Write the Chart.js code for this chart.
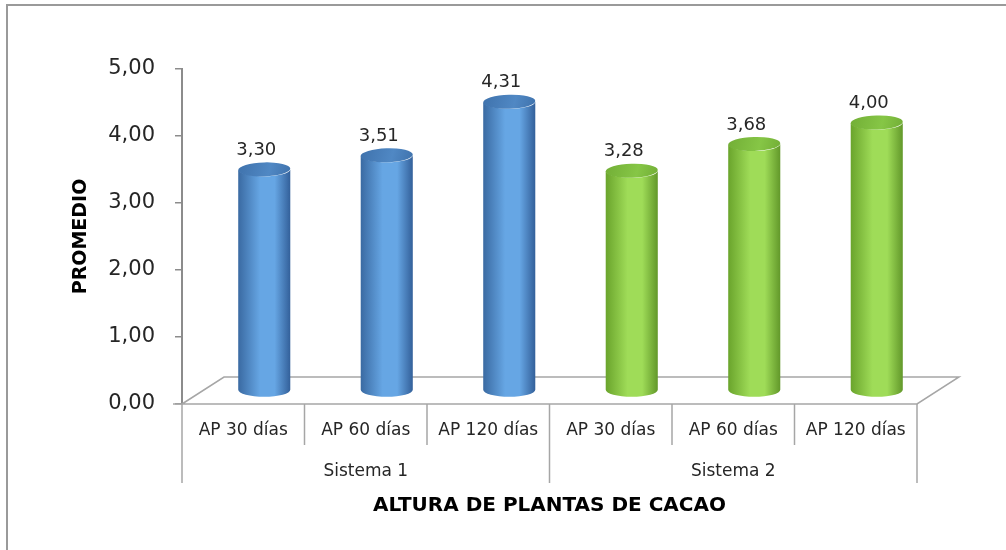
<!DOCTYPE html>
<html>
<head>
<meta charset="utf-8">
<script src="https://cdn.jsdelivr.net/npm/chart.js"></script>
<style>
  html, body { margin: 0; padding: 0; background: #fff; }
  #wrap { width: 1006px; height: 550px; position: relative; }
</style>
</head>
<body>
<div id="wrap"><canvas id="grafico" width="1006" height="550"></canvas></div>
<script>
// datos del gráfico
const categorias = ['AP 30 días', 'AP 60 días', 'AP 120 días', 'AP 30 días', 'AP 60 días', 'AP 120 días'];
const sistemas = ['Sistema 1', 'Sistema 2'];
const grupoDeCategoria = [0, 0, 0, 1, 1, 1];
const promedios = [3.30, 3.51, 4.31, 3.28, 3.68, 4.00];
const ticksY = [0, 1, 2, 3, 4, 5];

const FUENTE = '"DejaVu Sans", "Open Sans", sans-serif';

// colores de los cilindros por sistema
const paletas = [
    { borde: '#3a6aa2', claro: '#66a6e4', oscuro: '#33609a', tapa: '#3f72ac', tapaClara: '#5088c4' },
    { borde: '#6aa42c', claro: '#9fdc58', oscuro: '#62982a', tapa: '#72ae36', tapaClara: '#86c646' }
];

// desplazamiento de profundidad (efecto 3D)
const PROF_X = 42, PROF_Y = -27;

const coma = v => v.toFixed(2).replace('.', ',');

function cilindro(ctx, cx, arriba, abajo, ancho, pal) {
    const rx = ancho / 2, ry = 7;

    const g = ctx.createLinearGradient(cx - rx, 0, cx + rx, 0);
    g.addColorStop(0, pal.borde);
    g.addColorStop(0.42, pal.claro);
    g.addColorStop(0.7, pal.claro);
    g.addColorStop(1, pal.oscuro);

    ctx.beginPath();
    ctx.moveTo(cx - rx, arriba);
    ctx.lineTo(cx - rx, abajo);
    ctx.ellipse(cx, abajo, rx, ry, 0, Math.PI, 0, true);
    ctx.lineTo(cx + rx, arriba);
    ctx.ellipse(cx, arriba, rx, ry, 0, 0, Math.PI, false);
    ctx.closePath();
    ctx.fillStyle = g;
    ctx.fill();

    // tapa superior
    const gt = ctx.createLinearGradient(cx - rx, arriba - ry, cx + rx, arriba + ry);
    gt.addColorStop(0, pal.tapa);
    gt.addColorStop(0.6, pal.tapaClara);
    gt.addColorStop(1, pal.tapa);
    ctx.beginPath();
    ctx.ellipse(cx, arriba, rx, ry, -0.03, 0, Math.PI * 2);
    ctx.fillStyle = gt;
    ctx.fill();
}

const plugin3D = {
    id: 'cilindros3d',

    beforeDraw(chart) {
        const ctx = chart.ctx;
        // marco exterior
        ctx.save();
        ctx.strokeStyle = '#9a9a9a';
        ctx.lineWidth = 2;
        ctx.beginPath();
        ctx.moveTo(7, 560);
        ctx.lineTo(7, 5);
        ctx.lineTo(1010, 5);
        ctx.stroke();
        ctx.restore();
    },

    beforeDatasetsDraw(chart) {
        const ctx = chart.ctx;
        const { left, right, bottom } = chart.chartArea;

        // piso
        ctx.save();
        ctx.strokeStyle = '#a6a6a6';
        ctx.lineWidth = 1.5;
        ctx.beginPath();
        ctx.moveTo(left, bottom);
        ctx.lineTo(left + PROF_X, bottom + PROF_Y);
        ctx.lineTo(right + PROF_X, bottom + PROF_Y);
        ctx.lineTo(right, bottom);
        ctx.lineTo(left - 9, bottom);
        ctx.stroke();

        // cilindros a media profundidad
        const meta = chart.getDatasetMeta(0);
        const dx = PROF_X / 2, dy = PROF_Y / 2;
        meta.data.forEach((barra, i) => {
            const p = barra.getProps(['x', 'y', 'base', 'width'], true);
            const pal = paletas[grupoDeCategoria[i]];
            cilindro(ctx, p.x + dx, p.y + dy, p.base + dy, p.width, pal);

            ctx.fillStyle = '#262626';
            ctx.font = '18px ' + FUENTE;
            ctx.textAlign = 'center';
            ctx.textBaseline = 'middle';
            ctx.fillText(coma(promedios[i]), p.x + dx - 8, p.y + dy - 19);
        });
        ctx.restore();
        return false;
    },

    afterDraw(chart) {
        const ctx = chart.ctx;
        const xs = chart.scales.x;
        const { left, right, bottom } = chart.chartArea;
        const medio = (xs.getPixelForValue(1) - xs.getPixelForValue(0)) / 2;

        ctx.save();
        // líneas de la tabla de categorías
        ctx.strokeStyle = '#a6a6a6';
        ctx.lineWidth = 1.5;
        for (let i = 0; i <= categorias.length; i++) {
            const bx = i < categorias.length ? xs.getPixelForValue(i) - medio : xs.getPixelForValue(i - 1) + medio;
            const largo = (i % 3 === 0) ? 79 : 41;
            ctx.beginPath();
            ctx.moveTo(bx, bottom);
            ctx.lineTo(bx, bottom + largo);
            ctx.stroke();
        }

        ctx.fillStyle = '#262626';
        ctx.textAlign = 'center';
        ctx.textBaseline = 'middle';
        ctx.font = '17px ' + FUENTE;
        categorias.forEach((c, i) => ctx.fillText(c, xs.getPixelForValue(i), bottom + 27));

        sistemas.forEach((s, g) => {
            const idx = grupoDeCategoria.map((v, i) => v === g ? i : -1).filter(i => i >= 0);
            const cx = (xs.getPixelForValue(idx[0]) + xs.getPixelForValue(idx[idx.length - 1])) / 2;
            ctx.fillText(s, cx, bottom + 68);
        });

        // título del eje X
        ctx.fillStyle = '#000';
        ctx.font = 'bold 20px ' + FUENTE;
        ctx.fillText('ALTURA DE PLANTAS DE CACAO', (left + right) / 2, bottom + 102);
        ctx.restore();
    }
};

new Chart(document.getElementById('grafico'), {
    type: 'bar',
    data: {
        labels: categorias,
        datasets: [{
            label: 'Promedio',
            data: promedios,
            barPercentage: 0.85,
            categoryPercentage: 0.5
        }]
    },
    options: {
        responsive: false,
        animation: false,
        layout: { padding: { top: 69, bottom: 146, left: 60, right: 89 } },
        plugins: {
            legend: { display: false },
            tooltip: { enabled: false }
        },
        scales: {
            x: { display: false },
            y: {
                min: 0,
                max: 5,
                afterBuildTicks(scale) {
                    scale.ticks = ticksY.map(v => ({ value: v }));
                },
                afterFit(scale) {
                    scale.width = 122;
                },
                ticks: {
                    padding: 20,
                    color: '#262626',
                    font: { family: FUENTE, size: 21 },
                    callback: v => coma(v)
                },
                grid: {
                    drawOnChartArea: false,
                    drawTicks: true,
                    tickLength: 7,
                    color: '#8c8c8c',
                    lineWidth: 1.5
                },
                border: { display: true, color: '#8c8c8c', width: 2 },
                title: {
                    display: true,
                    text: 'PROMEDIO',
                    color: '#000',
                    font: { family: FUENTE, size: 19, weight: 'bold' },
                    padding: { top: 10, bottom: 0 }
                }
            }
        }
    },
    plugins: [plugin3D]
});
</script>
</body>
</html>
